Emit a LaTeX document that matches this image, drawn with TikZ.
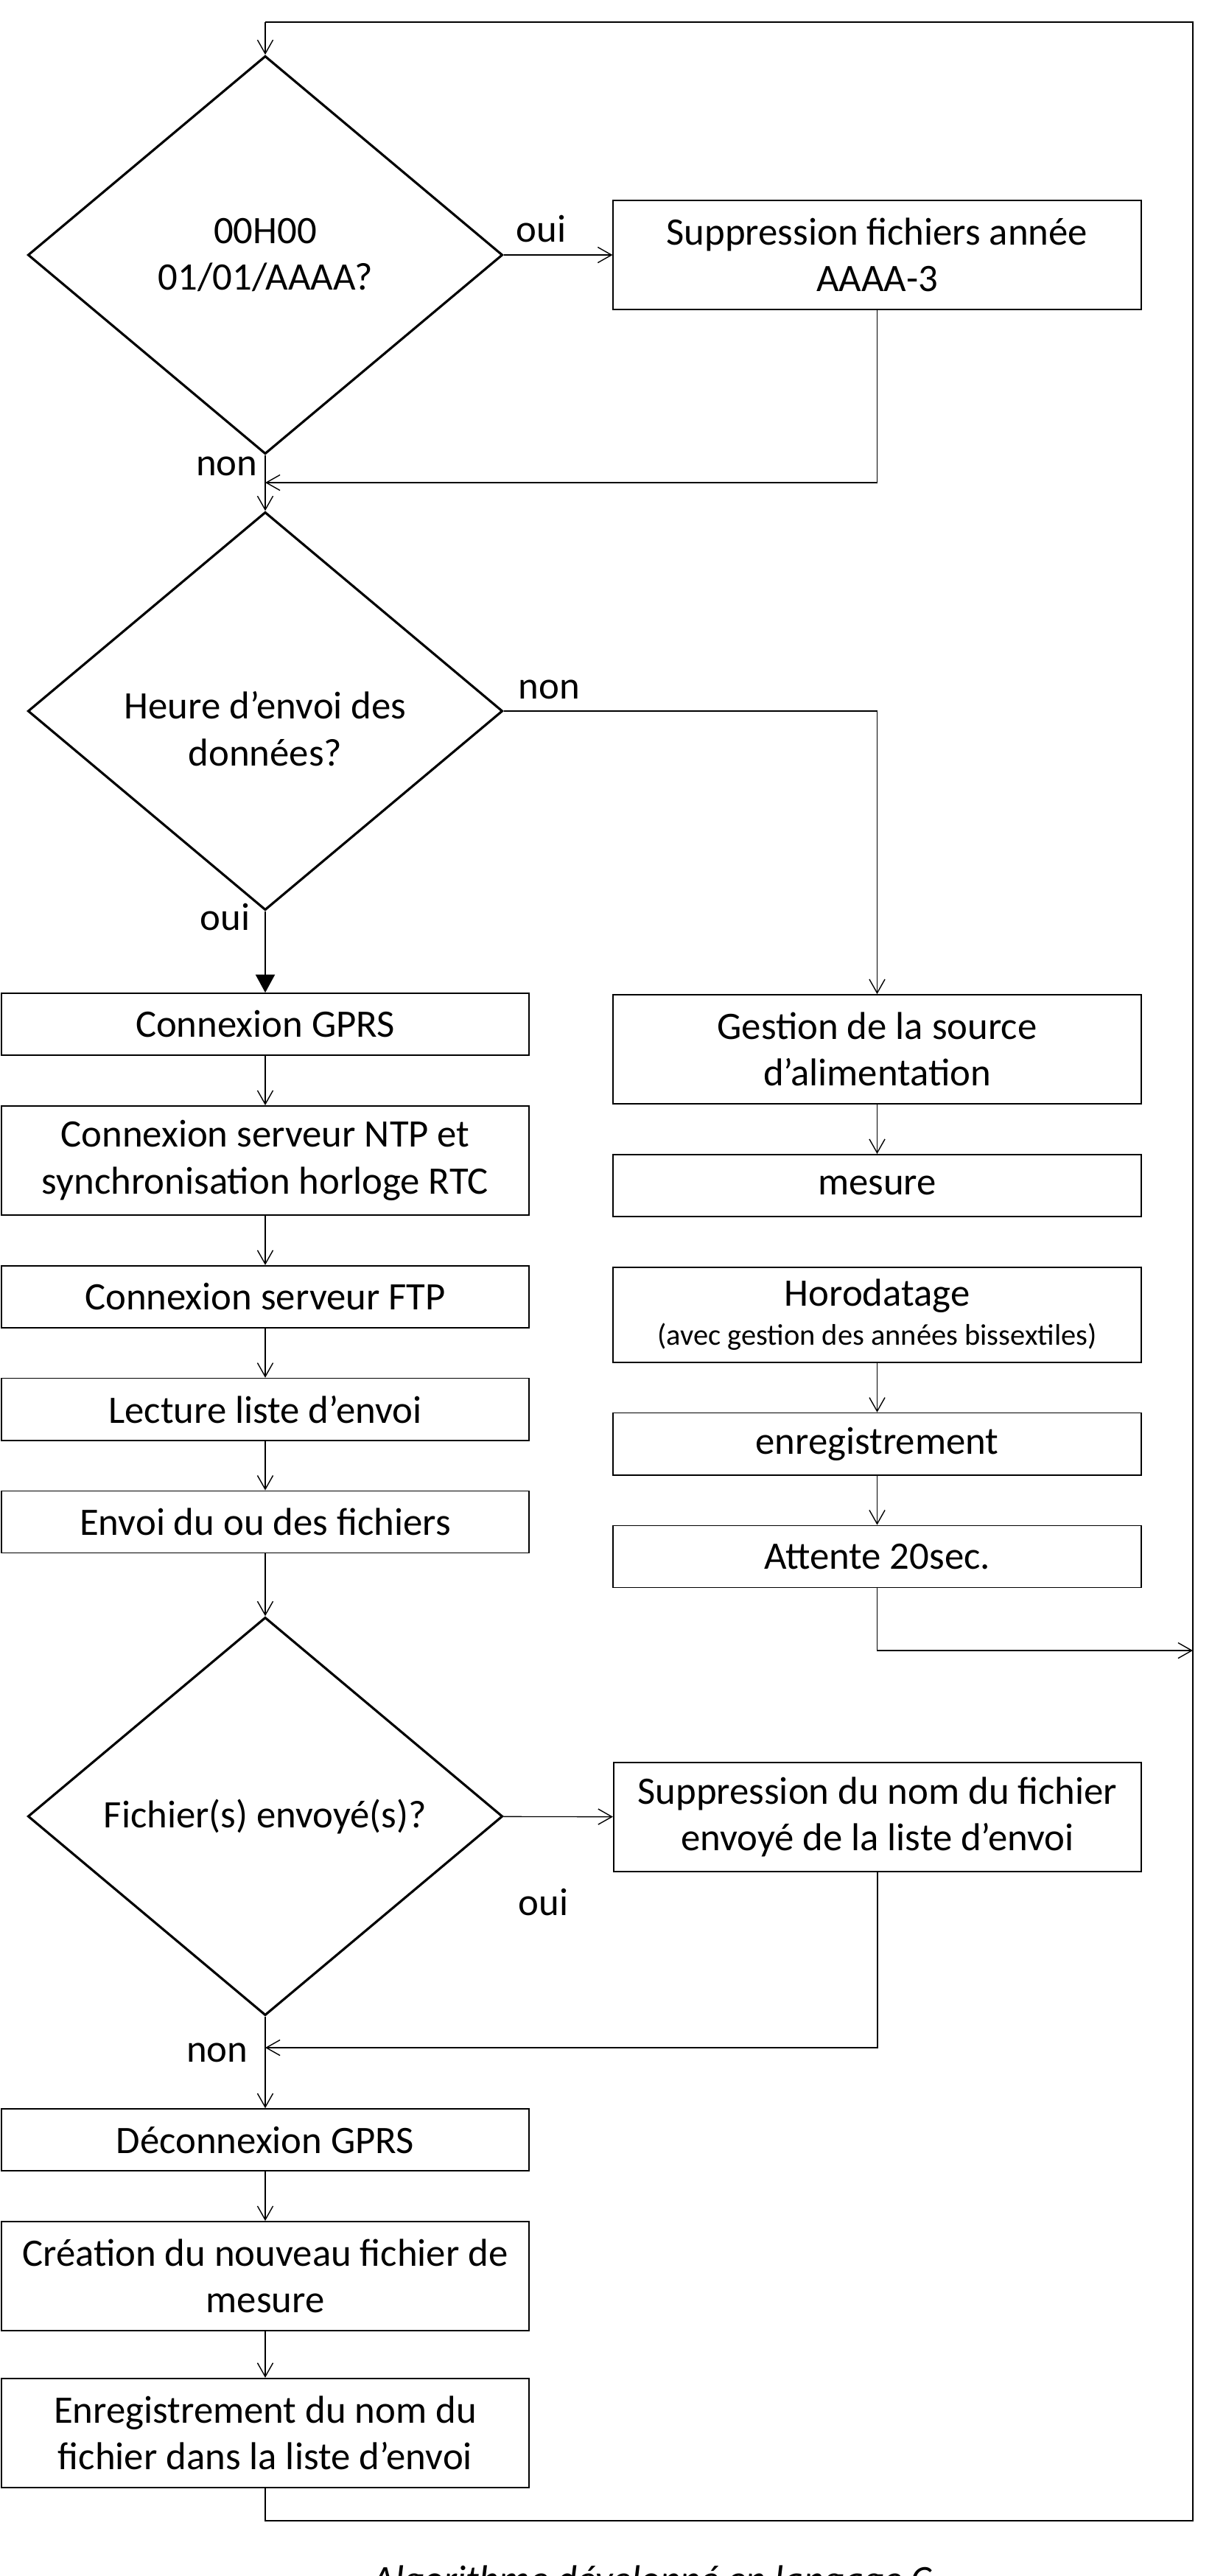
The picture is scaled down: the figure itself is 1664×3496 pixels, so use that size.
\documentclass[tikz,border=0pt]{standalone}
\usepackage{fontspec}
\setmainfont{Carlito}
\usetikzlibrary{arrows.meta, shapes.geometric, positioning}

\begin{document}
\begin{tikzpicture}[->, >={Straight Barb[length=5.3pt,width=6pt]}, x=0.01cm, y=-0.01cm,
    line width=0.4pt, node distance=0.67cm,
    every node/.style={font=\fontsize{15}{18}\selectfont},
    decision/.style={diamond, draw, line width=0.9pt, minimum width=6.44cm, minimum height=5.4cm, inner sep=0pt, align=center},
    task/.style={rectangle, draw, line width=0.5pt, minimum width=7.16cm, minimum height=0.84cm, inner sep=0pt, align=center},
    tall/.style={task, minimum height=1.48cm},
    lbl/.style={inner sep=0pt}]
      \path[use as bounding box] (0,0) rectangle (1664,3496);

      % decisions
      \node[decision] (d1) at (360,346) {00H00\\01/01/AAAA?};
      \node[decision] (d2) at (360,965) {};
      \node[align=center] (d2t) at (360,989) {Heure d’envoi des\\données?};
      \node[decision] (d3) at (360,2465) {Fichier(s) envoyé(s)?};

      % left column
      \node[tall] (sup1) at (1190.5,346) {Suppression fichiers année\\AAAA-3};
      \node[task] (gprs) at (360,1390) {Connexion GPRS};
      \node[tall] (ntp) [below=of gprs] {Connexion serveur NTP et\\synchronisation horloge RTC};
      \node[task] (ftp) [below=of ntp] {Connexion serveur FTP};
      \node[task] (lect) [below=of ftp] {Lecture liste d’envoi};
      \node[task] (envoi) [below=of lect] {Envoi du ou des fichiers};

      % right column
      \node[tall] (gest) at (1190.5,1424) {Gestion de la source\\d’alimentation};
      \node[task] (mes) [below=of gest] {mesure};
      \node[task, minimum height=1.29cm] (horo) [below=of mes] {Horodatage\\[-3pt]{\fontsize{11.5}{13}\selectfont(avec gestion des années bissextiles)}};
      \node[task] (enr) [below=of horo] {enregistrement};
      \node[task] (att) [below=of enr] {Attente 20sec.};

      \node[tall] (sup2) at (1191,2466) {Suppression du nom du fichier\\envoyé de la liste d’envoi};
      \node[task] (decon) at (360,2904) {Déconnexion GPRS};
      \node[tall] (creat) [below=of decon] {Création du nouveau fichier de\\mesure};
      \node[tall] (enreg) [below=0.63cm of creat] {Enregistrement du nom du\\fichier dans la liste d’envoi};

      % labels
      \node[lbl, anchor=base west] (oui1) at (700,328) {oui};
      \node[lbl, anchor=base east] (non1) at (350,645) {non};
      \node[lbl, anchor=base west] (non2) at (703,948) {non};
      \node[lbl, anchor=base east] (oui2) at (340,1262) {oui};
      \node[lbl, anchor=base west] (oui3) at (703,2599) {oui};
      \node[lbl, anchor=base east] (non3) at (337,2798) {non};
      \node[anchor=base, font=\fontsize{15}{18}\selectfont\itshape] (legende) at (885,3518) {Algorithme développé en langage C};

      % joins
      \coordinate (j1) at (360,655);
      \coordinate (j3) at (360,2779);
      \coordinate (jr) at (1619,2240);
      \coordinate (rb) at (1619,3421);
      \coordinate (rt) at (1619,30);
      \coordinate (lt) at (360,30);

      \path (d1) edge (sup1)
      (d1) edge (d2)
      (d2) edge[-{Triangle[length=7pt,width=7.5pt]}] (gprs)
      (gprs) edge (ntp)
      (ntp) edge (ftp)
      (ftp) edge (lect)
      (lect) edge (envoi)
      (envoi) edge (d3)
      (gest) edge (mes)
      (horo) edge (enr)
      (enr) edge (att)
      (d3) edge (sup2)
      (d3) edge (decon)
      (decon) edge (creat)
      (creat) edge (enreg);

      \draw (sup1) |- (j1);
      \draw (d2.east) -| (gest);
      \draw (att) |- (jr);
      \draw (sup2) |- (j3);
      \draw[-] (enreg) |- (rb) -- (rt) -- (lt);
      \draw (lt) -- (d1);
    \end{tikzpicture}
\end{document}
